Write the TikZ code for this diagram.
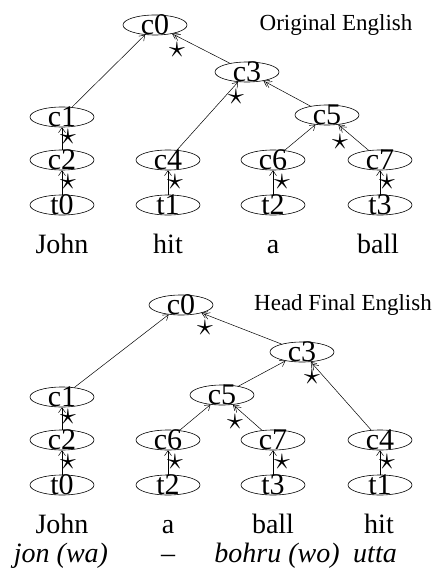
\documentclass[tikz,border=0pt]{standalone}
\usepackage{fontspec}
\setmainfont{Liberation Serif}
\usetikzlibrary{arrows.meta,shapes.geometric}
\newcommand\cnode[3]{\node[ell] (#1) at (#2) {};\node[lbl] (#1t) at (#1.center) {#3};}
\newcommand\hs{\scalebox{1.55}{$\star$}}
\begin{document}
\begin{tikzpicture}[x=1pt,y=-1pt,
  lbl/.style={font=\fontsize{30}{34}\selectfont,inner sep=0pt},
  ell/.style={ellipse,draw,line width=0.6pt,minimum width=64pt,minimum height=20pt,inner sep=0pt},
  word/.style={font=\fontsize{28}{32}\selectfont,inner sep=0pt,anchor=base},
  trans/.style={font=\fontsize{28}{32}\selectfont\itshape,inner sep=0pt,anchor=base},
  captext/.style={font=\fontsize{23}{26}\selectfont,inner sep=0pt,anchor=base},
  hstar/.style={font=\fontsize{20}{24}\selectfont,inner sep=0pt},
  arr/.style={line width=0.5pt,-{Straight Barb[length=5pt,width=7pt,line width=0.5pt]}},
  rarr/.style={line width=0.5pt,-{Straight Barb[length=5pt,width=7pt,line width=0.5pt,sep=-3pt]Straight Barb[length=5pt,width=7pt,line width=0.5pt]}}
]
\useasboundingbox (0,0) rectangle (439,575);

% ---------- Original English ----------
\cnode{a0}{155,25}{c0}
\cnode{a3}{247,72}{c3}
\cnode{a1}{62,117}{c1}
\cnode{a5}{327,115}{c5}
\cnode{a2}{62,160}{c2}
\cnode{a4}{168,160}{c4}
\cnode{a6}{273,160}{c6}
\cnode{a7}{380,160}{c7}
\cnode{at0}{62,205}{t0}
\cnode{at1}{168,205}{t1}
\cnode{at2}{273,205}{t2}
\cnode{at3}{380,205}{t3}

\draw[arr] (a1) -- (a0);
\draw[rarr] (a3) -- (a0);
\draw[arr] (a4) -- (a3);
\draw[rarr] (a5) -- (a3);
\draw[arr] (a6) -- (a5);
\draw[rarr] (a7) -- (a5);
\draw[arr] (a2) -- (a1);
\draw[arr] (at0) -- (a2);
\draw[arr] (at1) -- (a4);
\draw[arr] (at2) -- (a6);
\draw[arr] (at3) -- (a7);

\node[hstar] (as1) at (177,50) {\hs};
\node[hstar] (as2) at (236,97) {\hs};
\node[hstar] (as3) at (340,142) {\hs};
\node[hstar] (as4) at (68,137) {\hs};
\node[hstar] (as5) at (68,182) {\hs};
\node[hstar] (as6) at (175,182) {\hs};
\node[hstar] (as7) at (282,182) {\hs};
\node[hstar] (as8) at (387,182) {\hs};

\node[word] (aw0) at (62,253) {John};
\node[word] (aw1) at (168,253) {hit};
\node[word] (aw2) at (273,253) {a};
\node[word] (aw3) at (378,253) {ball};

\node[captext] (acap) at (336,31) {Original English};

% ---------- Head Final English ----------
\cnode{b0}{181,305}{c0}
\cnode{b3}{302,352}{c3}
\cnode{b1}{62,397}{c1}
\cnode{b5}{222,395}{c5}
\cnode{b2}{62,440}{c2}
\cnode{b6}{168,440}{c6}
\cnode{b7}{273,440}{c7}
\cnode{b4}{380,440}{c4}
\cnode{bt0}{62,485}{t0}
\cnode{bt2}{168,485}{t2}
\cnode{bt3}{273,485}{t3}
\cnode{bt1}{380,485}{t1}

\draw[arr] (b1) -- (b0);
\draw[rarr] (b3) -- (b0);
\draw[arr] (b5) -- (b3);
\draw[rarr] (b4) -- (b3);
\draw[arr] (b6) -- (b5);
\draw[rarr] (b7) -- (b5);
\draw[arr] (b2) -- (b1);
\draw[arr] (bt0) -- (b2);
\draw[arr] (bt2) -- (b6);
\draw[arr] (bt3) -- (b7);
\draw[arr] (bt1) -- (b4);

\node[hstar] (bs1) at (205,328) {\hs};
\node[hstar] (bs2) at (312,377) {\hs};
\node[hstar] (bs3) at (235,422) {\hs};
\node[hstar] (bs4) at (68,417) {\hs};
\node[hstar] (bs5) at (68,462) {\hs};
\node[hstar] (bs6) at (175,462) {\hs};
\node[hstar] (bs7) at (282,462) {\hs};
\node[hstar] (bs8) at (387,462) {\hs};

\node[word] (bw0) at (62,533) {John};
\node[word] (bw1) at (168,533) {a};
\node[word] (bw2) at (273,533) {ball};
\node[word] (bw3) at (379,533) {hit};

\node[trans] (bj0) at (61,562) {jon (wa)};
\node[trans] (bj1) at (168,562) {–};
\node[trans] (bj2) at (277,562) {bohru (wo)};
\node[trans] (bj3) at (375,562) {utta};

\node[captext] (bcap) at (343,310) {Head Final English};
\end{tikzpicture}
\end{document}
